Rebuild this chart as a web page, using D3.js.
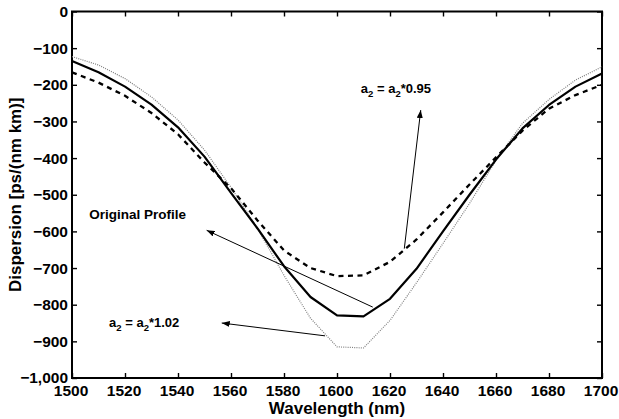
<!DOCTYPE html>
<html>
<head>
<meta charset="utf-8">
<script src="https://cdn.jsdelivr.net/npm/d3@7"></script>
<style>
  body { margin: 0; background: #fff; }
  svg text { font-family: "Liberation Sans", Arial, Helvetica, sans-serif; font-weight: bold; }
</style>
</head>
<body>
<svg id="svg"></svg>
<script>
// wavelength samples (nm)
const wavelengths = [1500, 1510, 1520, 1530, 1540, 1550, 1560, 1570, 1580, 1590, 1600,
                     1610, 1620, 1630, 1640, 1650, 1660, 1670, 1680, 1690, 1700];

// dispersion values, ps/(nm km)
const originalProfile = [-135, -166, -205, -254, -316, -396, -495, -592, -695, -779, -829,
                         -832, -784, -702, -600, -500, -404, -319, -255, -205, -169];
const profile095 = [-166, -194, -230, -277, -335, -412, -482, -570, -652, -700, -722,
                    -720, -683, -622, -548, -472, -398, -325, -265, -228, -200];
const profile102 = [-123, -146, -183, -233, -296, -378, -480, -592, -720, -837, -915,
                    -918, -843, -740, -633, -524, -406, -305, -240, -187, -151];

const xTicks = [1500, 1520, 1540, 1560, 1580, 1600, 1620, 1640, 1660, 1680, 1700];
const yTicks = [0, -100, -200, -300, -400, -500, -600, -700, -800, -900, -1000];

// annotations in data units: text anchor and arrow tail -> head
const labels = [
    { kind: "sub", pre: "a", mid: " = a", post: "*0.95", x: 1609, y: -223 },
    { kind: "plain", text: "Original Profile", x: 1506.5, y: -567 },
    { kind: "sub", pre: "a", mid: " = a", post: "*1.02", x: 1514, y: -861 }
];
const arrows = [
    { x1: 1625.4, y1: -647, x2: 1631.6, y2: -269 },
    { x1: 1613.5, y1: -806.6, x2: 1550.8, y2: -597 },
    { x1: 1595.5, y1: -885, x2: 1556.5, y2: -850 }
];

const width = 619;
const height = 419;
const margin = { top: 11.5, right: 17, bottom: 41, left: 72 };

let svg = d3.select("#svg")
    .attr("width", width)
    .attr("height", height);

svg.append("rect").attr("width", width).attr("height", height).attr("fill", "#fff");

const xScale = d3.scaleLinear().domain([1500, 1700]).range([margin.left, width - margin.right]);
const yScale = d3.scaleLinear().domain([-1000, 0]).range([height - margin.bottom, margin.top]);

const plotLeft = margin.left, plotRight = width - margin.right;
const plotTop = margin.top, plotBottom = height - margin.bottom;

// axes, ticks pointing inward on all four sides
const tickLen = 5;
let xAxis = svg.append("g")
    .attr("transform", `translate(0,${plotBottom})`)
    .call(d3.axisBottom(xScale).tickValues(xTicks).tickSize(-tickLen).tickPadding(6.5).tickFormat(d3.format("d")));
let xAxisTop = svg.append("g")
    .attr("transform", `translate(0,${plotTop})`)
    .call(d3.axisTop(xScale).tickValues(xTicks).tickSize(-tickLen).tickFormat(""));
let yAxis = svg.append("g")
    .attr("transform", `translate(${plotLeft},0)`)
    .call(d3.axisLeft(yScale).tickValues(yTicks).tickSize(-tickLen).tickPadding(4));
let yAxisRight = svg.append("g")
    .attr("transform", `translate(${plotRight},0)`)
    .call(d3.axisRight(yScale).tickValues(yTicks).tickSize(-tickLen).tickFormat(""));

svg.selectAll(".domain").remove();
svg.selectAll(".tick line").attr("stroke", "#000").attr("stroke-width", 1.4);
xAxis.selectAll("text").style("font-size", "15.5px").attr("fill", "#000").attr("dx", "-1.5");
yAxis.selectAll("text").style("font-size", "15.5px").attr("fill", "#000");

// frame
svg.append("rect")
    .attr("x", plotLeft).attr("y", plotTop)
    .attr("width", plotRight - plotLeft).attr("height", plotBottom - plotTop)
    .attr("fill", "none").attr("stroke", "#000").attr("stroke-width", 2);

// curves
const line = d3.line()
    .x((d, i) => xScale(wavelengths[i]))
    .y(d => yScale(d));

svg.append("path").datum(profile102)
    .attr("d", line).attr("fill", "none")
    .attr("stroke", "#808080").attr("stroke-width", 1.2)
    .attr("stroke-dasharray", "1,1.2");

svg.append("path").datum(profile095)
    .attr("d", line).attr("fill", "none")
    .attr("stroke", "#000").attr("stroke-width", 2.3)
    .attr("stroke-dasharray", "5,4.5");

svg.append("path").datum(originalProfile)
    .attr("d", line).attr("fill", "none")
    .attr("stroke", "#000").attr("stroke-width", 2.2)
    .attr("stroke-linejoin", "round");

// arrowhead
svg.append("defs").append("marker")
    .attr("id", "head")
    .attr("markerUnits", "userSpaceOnUse")
    .attr("markerWidth", 8).attr("markerHeight", 6)
    .attr("refX", 8).attr("refY", 3)
    .attr("orient", "auto")
    .append("path").attr("d", "M0,0 L8,3 L0,6 Z").attr("fill", "#000");

svg.selectAll(".arrow")
    .data(arrows)
    .enter().append("line")
    .attr("class", "arrow")
    .attr("x1", d => xScale(d.x1)).attr("y1", d => yScale(d.y1))
    .attr("x2", d => xScale(d.x2)).attr("y2", d => yScale(d.y2))
    .attr("stroke", "#000").attr("stroke-width", 1)
    .attr("marker-end", "url(#head)");

// annotation texts
labels.forEach(l => {
    let t = svg.append("text")
        .attr("x", xScale(l.x)).attr("y", yScale(l.y))
        .style("font-size", "13px").attr("fill", "#000");
    if (l.kind === "plain") {
        t.style("font-size", "13.5px").text(l.text);
    } else {
        t.append("tspan").text(l.pre);
        t.append("tspan").attr("dy", 4).style("font-size", "9.5px").text("2");
        t.append("tspan").attr("dy", -4).text(l.mid);
        t.append("tspan").attr("dy", 4).style("font-size", "9.5px").text("2");
        t.append("tspan").attr("dy", -4).text(l.post);
    }
});

// axis titles
svg.append("text")
    .attr("x", (plotLeft + plotRight) / 2)
    .attr("y", 414)
    .attr("text-anchor", "middle")
    .style("font-size", "17px")
    .text("Wavelength (nm)");

svg.append("text")
    .attr("transform", `translate(21,${(plotTop + plotBottom) / 2}) rotate(-90)`)
    .attr("text-anchor", "middle")
    .style("font-size", "17px")
    .text("Dispersion [ps/(nm km)]");
</script>
</body>
</html>
